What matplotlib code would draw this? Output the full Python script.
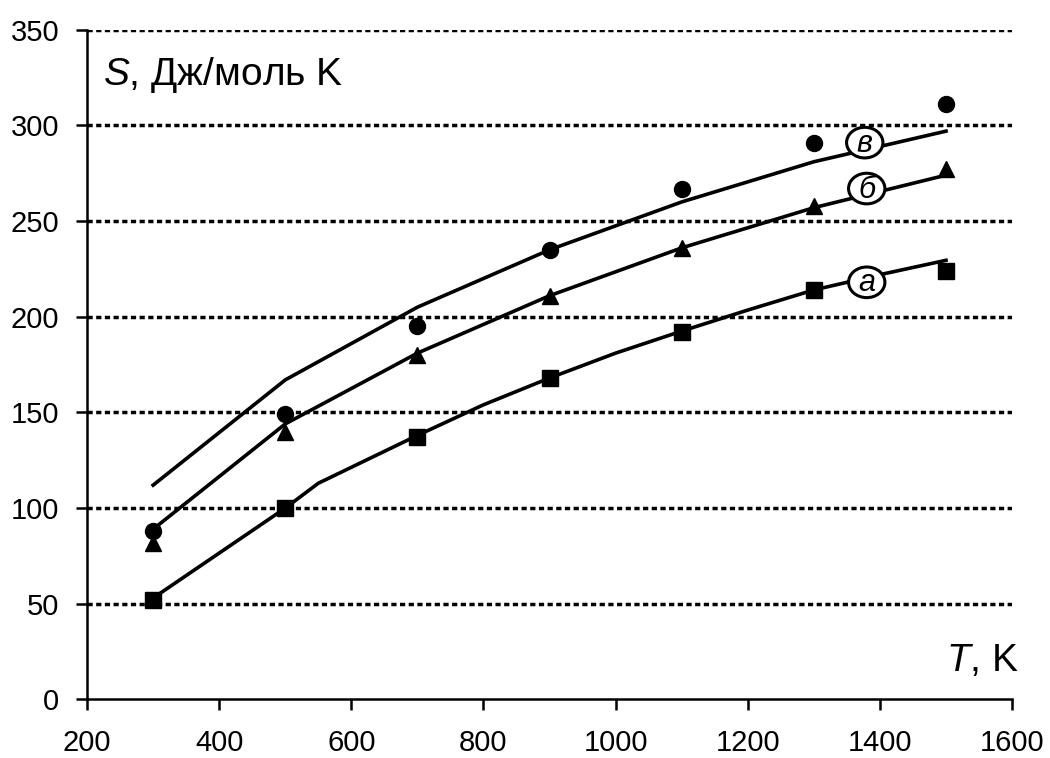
import matplotlib
matplotlib.use('Agg')
import matplotlib.pyplot as plt
from matplotlib.patches import Ellipse

plt.rcParams['font.family'] = ['Liberation Sans', 'DejaVu Sans']
plt.rcParams['mathtext.fontset'] = 'custom'
plt.rcParams['mathtext.rm'] = 'Liberation Sans'
plt.rcParams['mathtext.it'] = 'Liberation Sans:italic'

# measured points (T, K)
T_pts = [300, 500, 700, 900, 1100, 1300, 1500]
S_a_pts = [52, 100, 137, 168, 192, 214, 224]   # squares
S_b_pts = [82, 140, 180, 211, 236, 258, 277]   # triangles
S_v_pts = [88, 149, 195, 235, 267, 291, 311]   # circles

# calculated curves
T_a_line = [300, 500, 550, 700, 800, 900, 1000, 1100, 1200, 1300, 1400, 1500]
S_a_line = [53, 100, 113, 138, 154, 168, 181, 192.5, 203.5, 214, 222, 229.5]
T_b_line = [300, 500, 700, 900, 1100, 1300, 1500]
S_b_line = [89, 144, 181, 211, 236, 257, 274]
T_v_line = [300, 500, 700, 900, 1100, 1300, 1500]
S_v_line = [112, 167, 205, 235, 260, 281, 297]

curve_labels = ['а', 'б', 'в']
label_T = [1380, 1380, 1377]
label_S = [218, 267, 291]

fig = plt.figure(figsize=(10.5, 7.58), dpi=100)
ax = fig.add_axes([0.0829, 0.0772, 0.881, 0.8836])

# dotted grid
for y in [50, 100, 150, 200, 250, 300, 350]:
    ax.axhline(y, color='black', lw=2.5, ls=(0, (1.5, 1.0)), zorder=1)

ax.plot(T_a_line, S_a_line, color='black', lw=2.6, zorder=2)
ax.plot(T_b_line, S_b_line, color='black', lw=2.6, zorder=2)
ax.plot(T_v_line, S_v_line, color='black', lw=2.6, zorder=2)

ax.plot(T_pts, S_v_pts, 'o', color='black', ms=11.5, zorder=3)
ax.plot(T_pts, S_b_pts, '^', color='black', ms=12, zorder=3)
ax.plot(T_pts, S_a_pts, 's', color='black', ms=11, zorder=3)

# curve labels in circles
for lab, tx, sy in zip(curve_labels, label_T, label_S):
    ax.add_patch(Ellipse((tx, sy), 55, 16, facecolor='white', edgecolor='black',
                         lw=2.2, zorder=4))
    ax.text(tx, sy - 0.5, lab, fontsize=22, style='italic', ha='center', va='center', zorder=5)

ax.set_xlim(200, 1600)
ax.set_ylim(0, 350)
ax.set_xticks(range(200, 1601, 200))
ax.set_yticks(range(0, 351, 50))
for s in ['top', 'right']:
    ax.spines[s].set_visible(False)
for s in ['left', 'bottom']:
    ax.spines[s].set_linewidth(1.8)
ax.tick_params(axis='both', direction='out', length=8, width=1.8, labelsize=21)
ax.tick_params(axis='y', pad=12)
ax.tick_params(axis='x', pad=13)

ax.text(0.017, 0.932, '$S$, Дж/моль K', transform=ax.transAxes, fontsize=28,
        ha='left', va='center')
ax.text(1.007, 0.0575, '$T$, K', transform=ax.transAxes, fontsize=28,
        ha='right', va='center', clip_on=False)

plt.savefig('out.png', dpi=100)
